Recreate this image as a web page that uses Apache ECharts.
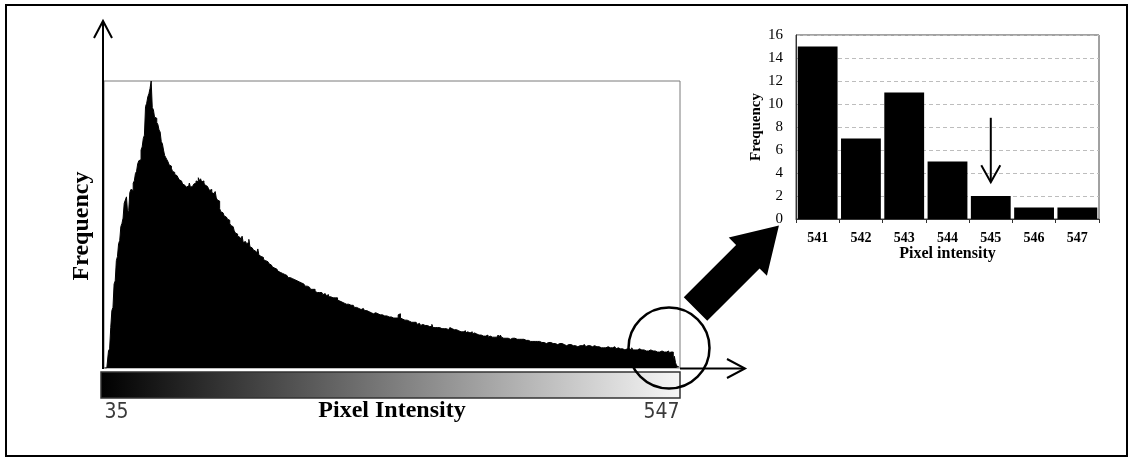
<!DOCTYPE html>
<html>
<head>
<meta charset="utf-8">
<script src="https://cdn.jsdelivr.net/npm/echarts@6/dist/echarts.min.js"></script>
<style>
  html, body { margin: 0; padding: 0; background: #fff; }
  #chart { width: 1133px; height: 462px; }
</style>
</head>
<body>
<div id="chart"></div>
<script>
// Full histogram: one count per grey level, from 35 to 547
const intensityStart = 35;
const intensityEnd = 547;
const histCounts = [
  0, 0, 0, 0, 16,                                   // 35-39
  18, 38, 54, 57, 79, 82, 101, 105, 117, 120,       // 40-49
  133, 136, 141, 155, 158, 161, 146, 148, 165, 168, // 50-59
  167, 174, 176, 183, 185, 192, 195, 196, 205, 208, // 60-69
  216, 219, 246, 249, 255, 258, 263, 270, 245, 243, // 70-79
  236, 235, 231, 229, 224, 222, 213, 211, 205, 200, // 80-89
  198, 196, 194, 191, 190, 188, 185, 184, 182, 181, // 90-99
  180, 179, 177, 176, 175, 173, 172, 171, 170, 171, // 100-109
  169, 174, 170, 171, 172, 173, 174, 176, 175, 179, // 110-119
  176, 178, 175, 176, 174, 172, 171, 170, 169, 167, // 120-129
  168, 165, 164, 163, 166, 160, 158, 157, 150, 147, // 130-139
  146, 145, 143, 142, 141, 140, 139, 136, 134, 133, // 140-149
  132, 129, 127, 126, 124, 123, 122, 121, 124, 118, // 150-159
  119, 118, 117, 118, 121, 114, 113, 112, 111, 110, // 160-169
  109, 108, 112, 106, 105, 104, 104, 102, 101, 100, // 170-179
  100, 99, 98, 97, 96, 95, 94, 93, 93, 92,          // 180-189
  91, 90, 90, 89, 88, 88, 87, 87, 86, 85,           // 190-199
  85, 84, 84, 83, 83, 82, 82, 81, 81, 80,           // 200-209
  80, 79, 79, 78, 77, 77, 76, 76, 75, 74,           // 210-219
  74, 73, 74, 72, 71, 72, 71, 70, 71, 70,           // 220-229
  69, 70, 69, 68, 69, 67, 67, 68, 66, 66,           // 230-239
  66, 65, 66, 64, 63, 63, 62, 62, 61, 61,           // 240-249
  60, 61, 60, 59, 59, 58, 59, 58, 57, 57,           // 250-259
  57, 56, 56, 55, 55, 56, 55, 54, 54, 53,           // 260-269
  53, 52, 52, 52, 51, 52, 52, 51, 51, 50,           // 270-279
  50, 51, 50, 50, 49, 50, 49, 48, 48, 49,           // 280-289
  48, 48, 47, 48, 47, 48, 47, 50, 51, 47,           // 290-299
  46, 46, 45, 46, 45, 44, 44, 43, 43, 44,           // 300-309
  43, 42, 43, 42, 41, 42, 41, 40, 41, 40,           // 310-319
  40, 39, 40, 39, 39, 38, 39, 41, 38, 38,           // 320-329
  39, 38, 37, 38, 37, 37, 36, 37, 36, 37,           // 330-339
  37, 36, 37, 38, 37, 37, 36, 37, 36, 35,           // 340-349
  35, 35, 34, 35, 34, 34, 35, 33, 34, 33,           // 350-359
  33, 33, 34, 32, 33, 32, 32, 33, 31, 32,           // 360-369
  31, 31, 30, 31, 30, 30, 31, 29, 30, 29,           // 370-379
  29, 30, 29, 29, 29, 30, 31, 29, 31, 29,           // 380-389
  28, 29, 28, 29, 28, 28, 27, 28, 28, 27,           // 390-399
  28, 27, 27, 28, 27, 26, 27, 26, 27, 26,           // 400-409
  26, 27, 26, 26, 25, 26, 25, 26, 25, 25,           // 410-419
  25, 24, 25, 24, 24, 25, 24, 24, 23, 24,           // 420-429
  24, 23, 24, 23, 23, 24, 23, 23, 22, 23,           // 430-439
  23, 22, 23, 22, 22, 23, 21, 22, 22, 21,           // 440-449
  22, 21, 21, 22, 21, 21, 20, 21, 21, 20,           // 450-459
  21, 21, 22, 21, 20, 21, 20, 21, 20, 20,           // 460-469
  20, 21, 20, 20, 19, 20, 20, 19, 20, 19,           // 470-479
  20, 19, 19, 20, 19, 19, 18, 19, 19, 20,           // 480-489
  19, 18, 19, 18, 18, 19, 18, 18, 17, 18,           // 490-499
  18, 17, 18, 18, 17, 19, 17, 17, 18, 17,           // 500-509
  17, 18, 17, 17, 16, 17, 17, 16, 17, 16,           // 510-519
  16, 17, 16, 16, 15, 16, 16, 15, 16, 15,           // 520-529
  15, 16, 15, 15, 14, 15, 15, 16, 14, 15,           // 530-539
  14, 15, 7, 11, 5, 2, 1, 1                         // 540-547
];
const mainTickLabels = ['35', '547'];

// Close-up of the bright tail
const zoomCategories = ['541', '542', '543', '544', '545', '546', '547'];
const zoomCounts = [15, 7, 11, 5, 2, 1, 1];
const markedLevel = '545';

const intensityLevels = [];
for (let v = intensityStart; v <= intensityEnd; v++) intensityLevels.push(String(v));

const serif = '"Liberation Serif", "Times New Roman", serif';
const narrow = '"Liberation Sans Narrow", "DejaVu Sans Condensed", "Liberation Sans", sans-serif';

const chart = echarts.init(document.getElementById('chart'), null, { renderer: 'canvas' });

const option = {
  backgroundColor: '#fff',
  animation: false,
  grid: [
    { left: 104, right: 453, top: 81, bottom: 94, show: true, borderColor: '#7a7a7a', borderWidth: 1, backgroundColor: 'transparent' },
    { left: 796, right: 34, top: 35, bottom: 243, show: true, borderColor: '#444', borderWidth: 1, backgroundColor: 'transparent' }
  ],
  xAxis: [
    {
      gridIndex: 0, type: 'category', data: intensityLevels,
      axisLine: { show: false }, axisTick: { show: false },
      axisLabel: {
        interval: (i, v) => mainTickLabels.includes(v),
        showMinLabel: true, showMaxLabel: true,
        alignMinLabel: 'left', alignMaxLabel: 'right',
        margin: 34, fontFamily: narrow, fontSize: 21, color: '#3a3a3a'
      }
    },
    {
      gridIndex: 1, type: 'category', data: zoomCategories,
      axisLine: { show: true, lineStyle: { color: '#333', width: 1 } },
      axisTick: { show: true, length: 4, lineStyle: { color: '#333' } },
      axisLabel: { margin: 12, fontFamily: serif, fontWeight: 'bold', fontSize: 14, color: '#000' },
      name: 'Pixel intensity', nameLocation: 'middle', nameGap: 22,
      nameTextStyle: { fontFamily: serif, fontWeight: 'bold', fontSize: 16, color: '#000' }
    }
  ],
  yAxis: [
    {
      gridIndex: 0, type: 'value', min: 0, max: 270,
      axisLine: { show: false }, axisTick: { show: false },
      axisLabel: { show: false }, splitLine: { show: false }
    },
    {
      gridIndex: 1, type: 'value', min: 0, max: 16, interval: 2,
      axisLine: { show: true, lineStyle: { color: '#333', width: 1 } },
      axisTick: { show: false },
      axisLabel: { margin: 13, fontFamily: serif, fontSize: 15, color: '#000' },
      splitLine: { show: true, lineStyle: { color: '#bdbdbd', type: [4, 3], width: 1 } },
      name: 'Frequency', nameLocation: 'middle', nameGap: 27, nameRotate: 90,
      nameTextStyle: { fontFamily: serif, fontWeight: 'bold', fontSize: 15, color: '#000' }
    }
  ],
  series: [
    {
      // stepped outline filled solid, one step per grey level
      type: 'line', xAxisIndex: 0, yAxisIndex: 0, data: histCounts,
      step: 'middle', symbol: 'none',
      lineStyle: { color: '#000', width: 1 },
      areaStyle: { color: '#000', opacity: 1 },
      silent: true
    },
    {
      type: 'bar', xAxisIndex: 1, yAxisIndex: 1, data: zoomCounts,
      barCategoryGap: '8%',
      itemStyle: { color: '#000' },
      silent: true
    }
  ]
};
chart.setOption(option);

// Annotation arrow over the marked level in the close-up
const arrowTop = chart.convertToPixel({ xAxisIndex: 1, yAxisIndex: 1 }, [markedLevel, 8.8]);
const arrowTip = chart.convertToPixel({ xAxisIndex: 1, yAxisIndex: 1 }, [markedLevel, 3.2]);

// Big arrow from the circled tail to the close-up
const shaftStart = [695.5, 309];
const dir = [Math.SQRT1_2, -Math.SQRT1_2];
const perp = [Math.SQRT1_2, Math.SQRT1_2];
const shaftHalf = 16.6, headHalf = 27, shaftLen = 74, headLen = 44;
const at = (t, s) => [shaftStart[0] + dir[0] * t + perp[0] * s, shaftStart[1] + dir[1] * t + perp[1] * s];
const bigArrow = [
  at(0, -shaftHalf), at(shaftLen, -shaftHalf), at(shaftLen, -headHalf),
  at(shaftLen + headLen, 0),
  at(shaftLen, headHalf), at(shaftLen, shaftHalf), at(0, shaftHalf)
];

chart.setOption({
  graphic: [
    // outer frame
    { type: 'rect', shape: { x: 6, y: 5, width: 1121, height: 451 }, style: { fill: 'none', stroke: '#000', lineWidth: 2 }, z: 100 },
    // grey-level ramp under the histogram
    {
      type: 'rect', shape: { x: 101, y: 372, width: 579, height: 26 },
      style: {
        fill: new echarts.graphic.LinearGradient(0, 0, 1, 0, [
          { offset: 0, color: '#000' }, { offset: 1, color: '#f7f7f7' }
        ]),
        stroke: '#333', lineWidth: 1.5
      }, z: 50
    },
    // vertical axis arrow
    { type: 'line', shape: { x1: 103, y1: 369, x2: 103, y2: 21 }, style: { stroke: '#000', lineWidth: 2 }, z: 60 },
    { type: 'polyline', shape: { points: [[94, 38], [103, 21], [112, 38]] }, style: { stroke: '#000', lineWidth: 2, fill: 'none' }, z: 60 },
    // horizontal axis arrow
    { type: 'line', shape: { x1: 680, y1: 368.5, x2: 744, y2: 368.5 }, style: { stroke: '#000', lineWidth: 2 }, z: 60 },
    { type: 'polyline', shape: { points: [[727, 359], [745, 368.5], [727, 378]] }, style: { stroke: '#000', lineWidth: 2, fill: 'none' }, z: 60 },
    // circle around the bright tail
    { type: 'circle', shape: { cx: 669, cy: 348, r: 40.5 }, style: { fill: 'none', stroke: '#000', lineWidth: 2.5 }, z: 70 },
    // pointer to the close-up
    { type: 'polygon', shape: { points: bigArrow }, style: { fill: '#000' }, z: 70 },
    // axis titles of the full histogram
    {
      type: 'text', x: 392, y: 411,
      style: { text: 'Pixel Intensity', font: 'bold 24px ' + serif, fill: '#000', align: 'center', verticalAlign: 'middle' }, z: 60
    },
    {
      type: 'text', x: 82, y: 226, rotation: Math.PI / 2,
      style: { text: 'Frequency', font: 'bold 24px ' + serif, fill: '#000', align: 'center', verticalAlign: 'middle' }, z: 60
    },
    // arrow marking the level in the close-up
    { type: 'line', shape: { x1: arrowTop[0], y1: arrowTop[1], x2: arrowTip[0], y2: arrowTip[1] }, style: { stroke: '#000', lineWidth: 2 }, z: 60 },
    {
      type: 'polyline',
      shape: { points: [[arrowTip[0] - 9.5, arrowTip[1] - 17], [arrowTip[0], arrowTip[1]], [arrowTip[0] + 9.5, arrowTip[1] - 17]] },
      style: { stroke: '#000', lineWidth: 2, fill: 'none' }, z: 60
    }
  ]
});
</script>
</body>
</html>
